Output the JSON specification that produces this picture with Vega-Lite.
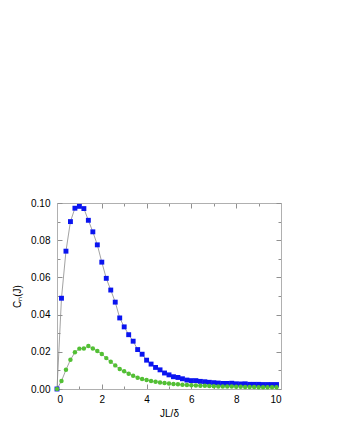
{
  "$schema": "https://vega.github.io/schema/vega-lite/v6.json",
  "autosize": "none",
  "width": 224,
  "height": 186,
  "padding": {"left": 57, "top": 203, "right": 59, "bottom": 51},
  "background": "white",
  "config": {
    "view": {"stroke": null},
    "font": "Liberation Sans",
    "axis": {
      "domainColor": "#b0b0b0",
      "domainWidth": 1,
      "tickColor": "#909090",
      "tickWidth": 1,
      "grid": false,
      "labelFont": "Liberation Sans",
      "labelFontSize": 10,
      "labelColor": "#000000",
      "titleFont": "Liberation Sans",
      "titleFontSize": 10,
      "titleFontWeight": "normal",
      "titleColor": "#000000"
    }
  },
  "data": {
    "values": [
      {"x": 0, "y": 0, "s": "b"},
      {"x": 0.2, "y": 0.0488, "s": "b"},
      {"x": 0.4, "y": 0.0741, "s": "b"},
      {"x": 0.6, "y": 0.0900, "s": "b"},
      {"x": 0.8, "y": 0.0972, "s": "b"},
      {"x": 1.0, "y": 0.0982, "s": "b"},
      {"x": 1.2, "y": 0.0970, "s": "b"},
      {"x": 1.4, "y": 0.0907, "s": "b"},
      {"x": 1.6, "y": 0.0845, "s": "b"},
      {"x": 1.8, "y": 0.0775, "s": "b"},
      {"x": 2.0, "y": 0.0682, "s": "b"},
      {"x": 2.2, "y": 0.0595, "s": "b"},
      {"x": 2.4, "y": 0.0532, "s": "b"},
      {"x": 2.6, "y": 0.0467, "s": "b"},
      {"x": 2.8, "y": 0.0382, "s": "b"},
      {"x": 3.0, "y": 0.0334, "s": "b"},
      {"x": 3.2, "y": 0.0292, "s": "b"},
      {"x": 3.4, "y": 0.0257, "s": "b"},
      {"x": 3.6, "y": 0.0212, "s": "b"},
      {"x": 3.8, "y": 0.0187, "s": "b"},
      {"x": 4.0, "y": 0.0155, "s": "b"},
      {"x": 4.2, "y": 0.0134, "s": "b"},
      {"x": 4.4, "y": 0.0116, "s": "b"},
      {"x": 4.6, "y": 0.0103, "s": "b"},
      {"x": 4.8, "y": 0.0086, "s": "b"},
      {"x": 5.0, "y": 0.0076, "s": "b"},
      {"x": 5.2, "y": 0.0066, "s": "b"},
      {"x": 5.4, "y": 0.0062, "s": "b"},
      {"x": 5.6, "y": 0.0055, "s": "b"},
      {"x": 5.8, "y": 0.0048, "s": "b"},
      {"x": 6.0, "y": 0.0045, "s": "b"},
      {"x": 6.2, "y": 0.0045, "s": "b"},
      {"x": 6.4, "y": 0.0041, "s": "b"},
      {"x": 6.6, "y": 0.0039, "s": "b"},
      {"x": 6.8, "y": 0.0036, "s": "b"},
      {"x": 7.0, "y": 0.0034, "s": "b"},
      {"x": 7.2, "y": 0.0032, "s": "b"},
      {"x": 7.4, "y": 0.0030, "s": "b"},
      {"x": 7.6, "y": 0.0030, "s": "b"},
      {"x": 7.8, "y": 0.0031, "s": "b"},
      {"x": 8.0, "y": 0.0028, "s": "b"},
      {"x": 8.2, "y": 0.0027, "s": "b"},
      {"x": 8.4, "y": 0.0028, "s": "b"},
      {"x": 8.6, "y": 0.0025, "s": "b"},
      {"x": 8.8, "y": 0.0025, "s": "b"},
      {"x": 9.0, "y": 0.0025, "s": "b"},
      {"x": 9.2, "y": 0.0024, "s": "b"},
      {"x": 9.4, "y": 0.0024, "s": "b"},
      {"x": 9.6, "y": 0.0024, "s": "b"},
      {"x": 9.8, "y": 0.0024, "s": "b"},
      {"x": 0, "y": 0, "s": "g"},
      {"x": 0.2, "y": 0.0043, "s": "g"},
      {"x": 0.4, "y": 0.0103, "s": "g"},
      {"x": 0.6, "y": 0.0157, "s": "g"},
      {"x": 0.8, "y": 0.0197, "s": "g"},
      {"x": 1.0, "y": 0.0217, "s": "g"},
      {"x": 1.2, "y": 0.0218, "s": "g"},
      {"x": 1.4, "y": 0.0231, "s": "g"},
      {"x": 1.6, "y": 0.0218, "s": "g"},
      {"x": 1.8, "y": 0.0204, "s": "g"},
      {"x": 2.0, "y": 0.0188, "s": "g"},
      {"x": 2.2, "y": 0.0166, "s": "g"},
      {"x": 2.4, "y": 0.0146, "s": "g"},
      {"x": 2.6, "y": 0.0127, "s": "g"},
      {"x": 2.8, "y": 0.0108, "s": "g"},
      {"x": 3.0, "y": 0.0095, "s": "g"},
      {"x": 3.2, "y": 0.0082, "s": "g"},
      {"x": 3.4, "y": 0.0071, "s": "g"},
      {"x": 3.6, "y": 0.0060, "s": "g"},
      {"x": 3.8, "y": 0.0054, "s": "g"},
      {"x": 4.0, "y": 0.0048, "s": "g"},
      {"x": 4.2, "y": 0.0043, "s": "g"},
      {"x": 4.4, "y": 0.0039, "s": "g"},
      {"x": 4.6, "y": 0.0035, "s": "g"},
      {"x": 4.8, "y": 0.0032, "s": "g"},
      {"x": 5.0, "y": 0.0029, "s": "g"},
      {"x": 5.2, "y": 0.0027, "s": "g"},
      {"x": 5.4, "y": 0.0025, "s": "g"},
      {"x": 5.6, "y": 0.0023, "s": "g"},
      {"x": 5.8, "y": 0.0021, "s": "g"},
      {"x": 6.0, "y": 0.0020, "s": "g"},
      {"x": 6.2, "y": 0.0019, "s": "g"},
      {"x": 6.4, "y": 0.0018, "s": "g"},
      {"x": 6.6, "y": 0.0017, "s": "g"},
      {"x": 6.8, "y": 0.0016, "s": "g"},
      {"x": 7.0, "y": 0.0015, "s": "g"},
      {"x": 7.2, "y": 0.0014, "s": "g"},
      {"x": 7.4, "y": 0.0014, "s": "g"},
      {"x": 7.6, "y": 0.0013, "s": "g"},
      {"x": 7.8, "y": 0.0013, "s": "g"},
      {"x": 8.0, "y": 0.0012, "s": "g"},
      {"x": 8.2, "y": 0.0012, "s": "g"},
      {"x": 8.4, "y": 0.0011, "s": "g"},
      {"x": 8.6, "y": 0.0011, "s": "g"},
      {"x": 8.8, "y": 0.0011, "s": "g"},
      {"x": 9.0, "y": 0.0010, "s": "g"},
      {"x": 9.2, "y": 0.0010, "s": "g"},
      {"x": 9.4, "y": 0.0010, "s": "g"},
      {"x": 9.6, "y": 0.0009, "s": "g"},
      {"x": 9.8, "y": 0.0009, "s": "g"}
    ]
  },
  "layer": [
    {
      "mark": {"type": "line", "color": "#8a8a8a", "strokeWidth": 0.8},
      "encoding": {
        "x": {
          "field": "x", "type": "quantitative",
          "scale": {"domain": [0, 10], "nice": false, "zero": false},
          "axis": {
            "orient": "bottom",
            "title": "JL/δ",
            "values": [0, 1, 2, 3, 4, 5, 6, 7, 8, 9, 10],
            "labelExpr": "datum.value % 2 == 0 ? datum.label : ''",
            "tickSize": {"condition": {"test": "datum.value % 2 == 0", "value": -5}, "value": -3},
            "labelPadding": 10,
            "titlePadding": 4
          }
        },
        "y": {
          "field": "y", "type": "quantitative",
          "scale": {"domain": [0, 0.1], "nice": false, "zero": false},
          "axis": {
            "orient": "left",
            "title": "Cₙ(J)",
            "values": [0, 0.01, 0.02, 0.03, 0.04, 0.05, 0.06, 0.07, 0.08, 0.09, 0.1],
            "format": ".2f",
            "labelExpr": "round(datum.value * 100) % 2 == 0 ? datum.label : ''",
            "tickSize": {"condition": {"test": "round(datum.value * 100) % 2 == 0", "value": -5}, "value": -3},
            "labelPadding": 12,
            "titlePadding": 8
          }
        },
        "detail": {"field": "s", "type": "nominal"}
      }
    },
    {
      "mark": {"type": "point", "filled": true, "opacity": 1},
      "encoding": {
        "x": {
          "field": "x", "type": "quantitative",
          "axis": {
            "orient": "top",
            "title": null,
            "labels": false,
            "values": [0, 1, 2, 3, 4, 5, 6, 7, 8, 9, 10],
            "tickSize": {"condition": {"test": "datum.value % 2 == 0", "value": -5}, "value": -3}
          }
        },
        "y": {
          "field": "y", "type": "quantitative",
          "axis": {
            "orient": "right",
            "title": null,
            "labels": false,
            "values": [0, 0.01, 0.02, 0.03, 0.04, 0.05, 0.06, 0.07, 0.08, 0.09, 0.1],
            "tickSize": {"condition": {"test": "round(datum.value * 100) % 2 == 0", "value": -5}, "value": -3}
          }
        },
        "color": {
          "field": "s", "type": "nominal",
          "scale": {"domain": ["b", "g"], "range": ["#0a14f0", "#52c034"]},
          "legend": null
        },
        "shape": {
          "field": "s", "type": "nominal",
          "scale": {"domain": ["b", "g"], "range": ["square", "circle"]},
          "legend": null
        },
        "size": {
          "field": "s", "type": "nominal",
          "scale": {"domain": ["b", "g"], "range": [24, 20]},
          "legend": null
        }
      }
    }
  ],
  "resolve": {"axis": {"x": "independent", "y": "independent"}}
}
